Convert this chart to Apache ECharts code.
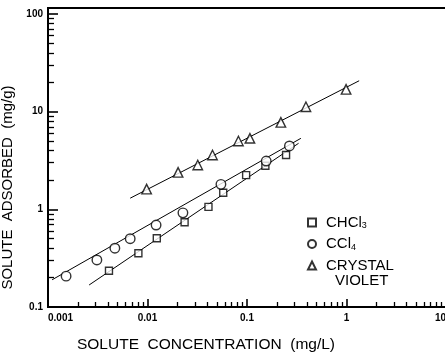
<!DOCTYPE html>
<html><head><meta charset="utf-8">
<script src="https://cdn.jsdelivr.net/npm/echarts@6/dist/echarts.min.js"></script>
<style>html,body{margin:0;padding:0;background:#fff}#c{width:445px;height:354px}</style>
</head><body><div id="c"></div>
<script>
// ---- data (log-log isotherms) ----
const chcl3X = [0.0041, 0.0081, 0.0124, 0.0236, 0.041, 0.0577, 0.098, 0.153, 0.247];
const chcl3Y = [0.235, 0.355, 0.505, 0.736, 1.06, 1.48, 2.24, 2.79, 3.60];
const ccl4X = [0.00152, 0.0031, 0.0047, 0.0067, 0.0122, 0.0227, 0.0547, 0.156, 0.267];
const ccl4Y = [0.207, 0.303, 0.40, 0.50, 0.69, 0.92, 1.80, 3.12, 4.45];
const cvX = [0.0098, 0.0203, 0.032, 0.045, 0.082, 0.107, 0.219, 0.391, 0.99];
const cvY = [1.61, 2.39, 2.84, 3.60, 5.0, 5.33, 7.76, 11.2, 16.9];
// fitted straight lines (end points)
const chcl3FitX = [0.00259, 0.33];
const chcl3FitY = [0.168, 4.74];
const ccl4FitX = [0.00110, 0.348];
const ccl4FitY = [0.19, 5.33];
const cvFitX = [0.0067, 1.34];
const cvFitY = [1.30, 20.7];
// ticks
const xTickLabels = ['0.001', '0.01', '0.1', '1', '10'];
const yTickLabels = ['0.1', '1', '10', '100'];
const xMin = 0.001, xMax = 10, yMin = 0.1, yMax = 115;
const xMinorTicks = [];
[0.001, 0.01, 0.1, 1].forEach(d => { for (let k = 2; k <= 9; k++) xMinorTicks.push(Math.log10(d * k)); });
const yMinorTicks = [];
[0.1, 1, 10].forEach(d => { for (let k = 2; k <= 9; k++) yMinorTicks.push(Math.log10(d * k)); });

const zip = (a, b) => a.map((v, i) => [v, b[i]]);
const FONT = 'Liberation Sans';
const lbl = (arr, base) => v => { const i = Math.round(Math.log10(v)) - base; return arr[i] !== undefined ? arr[i] : ''; };

const chart = echarts.init(document.getElementById('c'), null, { renderer: 'canvas' });
const mark = { color: '#fff', borderColor: '#000', borderWidth: 1.4 };
chart.setOption({
  animation: false,
  backgroundColor: '#fff',
  grid: { left: 48, right: -1, top: 8, bottom: 47, show: true, borderColor: '#000', borderWidth: 2,
    backgroundColor: 'transparent', containLabel: false, outerBoundsMode: 'none' },
  title: { text: 'VIOLET', left: 335, top: 273, padding: 0,
    textStyle: { fontFamily: FONT, fontSize: 15, fontWeight: 'normal', color: '#000' } },
  legend: {
    orient: 'vertical', left: 302, top: 210, itemWidth: 8, itemHeight: 8, itemGap: 6,
    selectedMode: false,
    data: [{ name: 'CHCl3', icon: 'rect' }, { name: 'CCl4', icon: 'circle' }, { name: 'CRYSTAL VIOLET', icon: 'triangle' }],
    formatter: n => n === 'CHCl3' ? '{n|CHCl}{s|3}' : n === 'CCl4' ? '{n|CCl}{s|4}' : '{n|CRYSTAL}',
    textStyle: { fontFamily: FONT, fontSize: 15, color: '#000', padding: [0, 0, 0, 5],
      rich: { n: { fontFamily: FONT, fontSize: 15, color: '#000' },
              s: { fontFamily: FONT, fontSize: 9, color: '#000', padding: [7, 0, 0, 0] } } }
  },
  xAxis: [{
    type: 'log', logBase: 10, min: xMin, max: xMax, position: 'bottom',
    axisLine: { onZero: false, lineStyle: { color: '#000', width: 2 } },
    axisTick: { show: true, inside: true, length: 8, lineStyle: { color: '#000', width: 1.6 } },
    axisLabel: { formatter: lbl(xTickLabels, -3), fontFamily: FONT, fontSize: 10, fontWeight: 'bold', color: '#000', margin: 6,
      alignMinLabel: 'left', alignMaxLabel: 'right' },
    splitLine: { show: false },
    name: 'SOLUTE  CONCENTRATION  (mg/L)', nameLocation: 'middle', nameGap: 30,
    nameTextStyle: { fontFamily: FONT, fontSize: 15.5, color: '#000', padding: [0, 82, 0, 0] }
  }, {
    type: 'value', min: Math.log10(xMin), max: Math.log10(xMax), position: 'bottom', gridIndex: 0,
    axisLine: { show: false, onZero: false }, axisLabel: { show: false }, splitLine: { show: false },
    axisTick: { show: true, inside: true, length: 5, customValues: xMinorTicks, lineStyle: { color: '#000', width: 1.3 } }
  }],
  yAxis: [{
    type: 'log', logBase: 10, min: yMin, max: yMax, position: 'left',
    axisLine: { onZero: false, lineStyle: { color: '#000', width: 2 } },
    axisTick: { show: true, inside: true, length: 10, lineStyle: { color: '#000', width: 1.6 } },
    axisLabel: { formatter: lbl(yTickLabels, -1), showMaxLabel: false, fontFamily: FONT, fontSize: 10, fontWeight: 'bold', color: '#000', margin: 5 },
    splitLine: { show: false },
    name: 'SOLUTE  ADSORBED  (mg/g)', nameLocation: 'middle', nameGap: 26,
    nameTextStyle: { fontFamily: FONT, fontSize: 15, color: '#000', padding: [0, 60, 0, 0] }
  }, {
    type: 'value', min: Math.log10(yMin), max: Math.log10(yMax), position: 'left', gridIndex: 0,
    axisLine: { show: false, onZero: false }, axisLabel: { show: false }, splitLine: { show: false },
    axisTick: { show: true, inside: true, length: 6, customValues: yMinorTicks, lineStyle: { color: '#000', width: 1.3 } }
  }],
  series: [
    { name: 'fitCHCl3', type: 'line', data: zip(chcl3FitX, chcl3FitY), symbol: 'none', lineStyle: { color: '#000', width: 1 }, z: 1, silent: true },
    { name: 'fitCCl4', type: 'line', data: zip(ccl4FitX, ccl4FitY), symbol: 'none', lineStyle: { color: '#000', width: 1 }, z: 1, silent: true },
    { name: 'fitCV', type: 'line', data: zip(cvFitX, cvFitY), symbol: 'none', lineStyle: { color: '#000', width: 1 }, z: 1, silent: true },
    { name: 'CHCl3', type: 'scatter', symbol: 'rect', symbolSize: 7, data: zip(chcl3X, chcl3Y), itemStyle: mark, z: 3 },
    { name: 'CCl4', type: 'scatter', symbol: 'circle', symbolSize: 9.5, data: zip(ccl4X, ccl4Y), itemStyle: mark, z: 3 },
    { name: 'CRYSTAL VIOLET', type: 'scatter', symbol: 'triangle', symbolSize: 9.5, data: zip(cvX, cvY), itemStyle: mark, z: 3 }
  ]
});
</script></body></html>
